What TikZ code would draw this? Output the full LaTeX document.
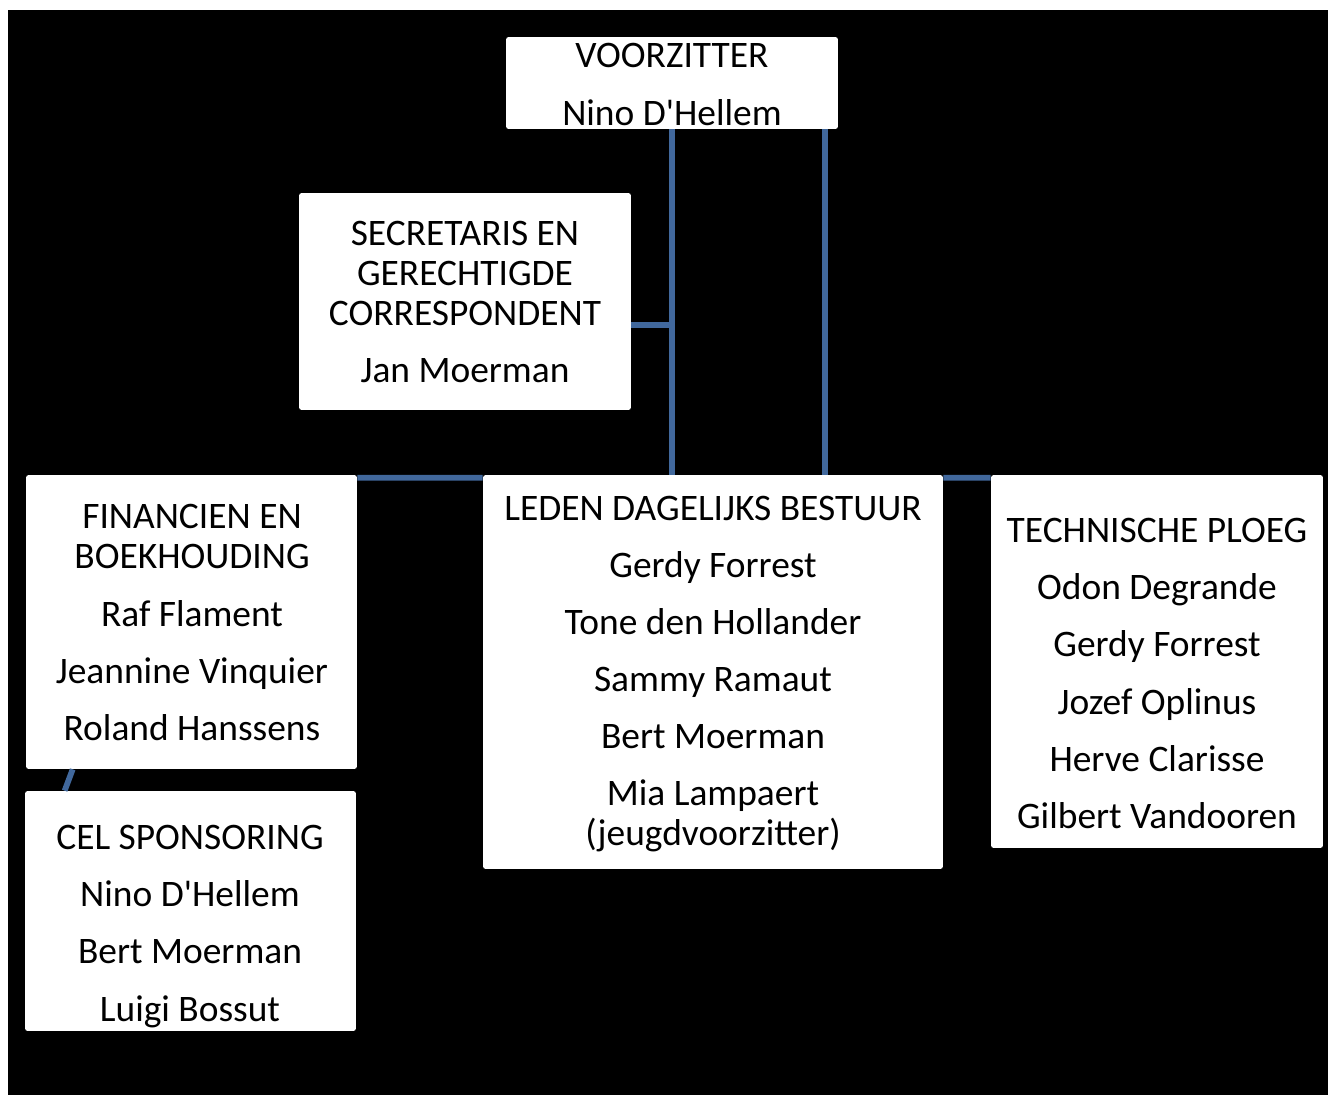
\documentclass[tikz,border=0pt]{standalone}
\usepackage{fontspec}
\setmainfont{Carlito}
\usepackage{tikz}
\usetikzlibrary{calc}
\definecolor{linkblue}{HTML}{41689C}

\begin{document}
\begin{tikzpicture}[x=0.02cm, y=-0.02cm,
  box/.style={fill=white, rounded corners=1.5pt, inner sep=0pt},
  txt/.style={align=center, inner sep=0pt, font=\fontsize{21.3}{22.9}\selectfont},
  link/.style={linkblue, line width=3.3pt}]
  \useasboundingbox (0,0) rectangle (1328,1095);
  \fill[black] (8,10) rectangle (1328,1095);
  % Boxes
  \node[box, minimum width=6.64cm, minimum height=1.84cm] (voorz) at (672,83) {};
  \node[box, minimum width=6.64cm, minimum height=4.34cm] (secr) at (465,301.5) {};
  \node[box, minimum width=6.62cm, minimum height=5.88cm] (fin) at (191.5,622) {};
  \node[box, minimum width=6.62cm, minimum height=4.80cm] (cel) at (190.5,911) {};
  \node[box, minimum width=9.20cm, minimum height=7.88cm] (leden) at (713,672) {};
  \node[box, minimum width=6.64cm, minimum height=7.46cm] (tech) at (1157,661.5) {};
  % Texts
  \node[txt] (voorztxt) at (672,84.5) {VOORZITTER\\[9.6pt] Nino D\textquotesingle Hellem};
  \node[txt] (secrtxt) at (465,302) {SECRETARIS EN\\ GERECHTIGDE\\ CORRESPONDENT\\[9.6pt] Jan Moerman};
  \node[txt] (fintxt) at (192,622.5) {FINANCIEN EN\\ BOEKHOUDING\\[9.6pt] Raf Flament\\[9.6pt]
    Jeannine Vinquier\\[9.6pt] Roland Hanssens};
  \node[txt] (celtxt) at (190,926.5) {CEL SPONSORING\\[9.6pt] Nino D\textquotesingle Hellem\\[9.6pt]
    Bert Moerman\\[9.6pt] Luigi Bossut};
  \node[txt] (ledentxt) at (713,674) {LEDEN DAGELIJKS BESTUUR\\[9.6pt] Gerdy Forrest\\[9.6pt]
    Tone den Hollander\\[9.6pt] Sammy Ramaut\\[9.6pt] Bert Moerman\\[9.6pt]
    Mia Lampaert\\ (jeugdvoorzitter)};
  \node[txt] (techtxt) at (1157,673.5) {TECHNISCHE PLOEG\\[9.6pt] Odon Degrande\\[9.6pt]
    Gerdy Forrest\\[9.6pt] Jozef Oplinus\\[9.6pt] Herve Clarisse\\[9.6pt] Gilbert Vandooren};
  % Connectors
  \coordinate (vright) at ($(voorz.south)+(153,0)$);
  \draw[link] (voorz.south) -- (voorz.south |- leden.north);
  \draw[link] (vright) -- (vright |- leden.north);
  \draw[link] ([yshift=-0.47cm]secr.east) -- ([yshift=-0.47cm]secr.east -| voorz.south);
  \draw[link] ([yshift=-0.06cm]fin.north east) -- ([yshift=-0.06cm]leden.north west);
  \draw[link] ([yshift=-0.06cm]leden.north east) -- ([yshift=-0.06cm]tech.north west);
  \draw[link] ([xshift=0.94cm]fin.south west) -- ([xshift=0.8cm]cel.north west);
\end{tikzpicture}
\end{document}
